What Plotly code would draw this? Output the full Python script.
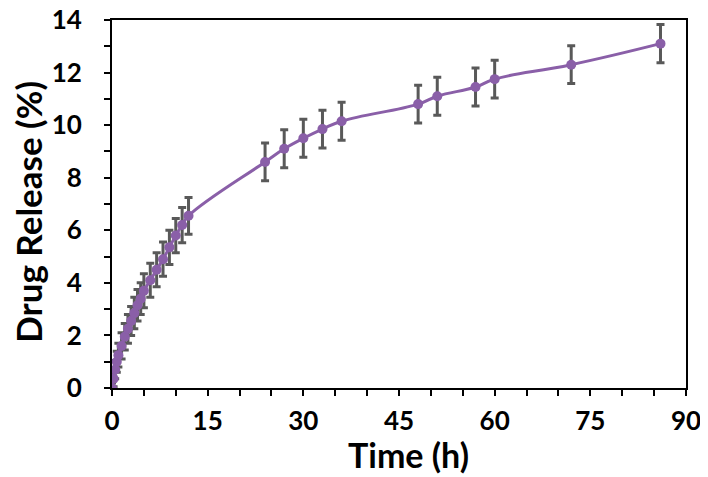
import plotly.graph_objects as go

# release data
time_h = [0, 0.25, 0.5, 0.75, 1, 1.5, 2, 2.5, 3, 3.5, 4, 4.5, 5, 6, 7, 8, 9, 10, 11, 12,
          24, 27, 30, 33, 36, 48, 51, 57, 60, 72, 86]
release = [0, 0.35, 0.7, 1.0, 1.25, 1.6, 1.95, 2.25, 2.55, 2.85, 3.15, 3.4, 3.7, 4.1, 4.5,
           4.9, 5.35, 5.8, 6.2, 6.55, 8.6, 9.1, 9.5, 9.85, 10.15, 10.8, 11.1, 11.45, 11.75,
           12.3, 13.1]
release_sd = [0.2, 0.3, 0.35, 0.4, 0.45, 0.5, 0.5, 0.55, 0.55, 0.6, 0.6, 0.6, 0.65, 0.65,
              0.65, 0.65, 0.65, 0.65, 0.67, 0.7, 0.72, 0.72, 0.72, 0.72, 0.72, 0.72, 0.72,
              0.72, 0.72, 0.72, 0.73]

purple = "#8A5FA8"
font_name = "Lato"

fig = go.Figure()
fig.add_trace(go.Scatter(
    x=time_h, y=release, mode="lines+markers",
    line=dict(color=purple, width=3, shape="spline", smoothing=1.3),
    marker=dict(color=purple, size=10),
    error_y=dict(type="data", array=release_sd, visible=True,
                 color="#595959", thickness=3, width=4),
    showlegend=False))

axis_style = dict(showline=True, linecolor="black", linewidth=2, mirror=True,
                  ticks="outside", ticklen=6, tickwidth=2, tickcolor="black",
                  showgrid=False, zeroline=False, automargin=False,
                  ticklabeloverflow="allow",
                  tickfont=dict(family=font_name, size=26, color="black", weight="bold"))

fig.update_xaxes(range=[0, 90], dtick=15, tick0=0,
                 minor=dict(dtick=5, ticks="outside", ticklen=6, tickwidth=2, tickcolor="black"),
                 ticklabelstandoff=3, **axis_style)
fig.update_yaxes(range=[0, 14], dtick=2, tick0=0,
                 minor=dict(dtick=1, ticks="outside", ticklen=6, tickwidth=2, tickcolor="black"),
                 ticklabelstandoff=17, **axis_style)

# axis titles placed as annotations so they sit where the reference has them
fig.add_annotation(text="<b>Time (h)</b>", xref="paper", yref="paper", x=0.517, y=-0.18,
                   xanchor="center", yanchor="middle", showarrow=False,
                   font=dict(family=font_name, size=34, color="black"))
fig.add_annotation(text="<b>Drug Release (%)</b>", xref="paper", yref="paper", x=-0.147, y=0.478,
                   xanchor="center", yanchor="middle", textangle=-90, showarrow=False,
                   font=dict(family=font_name, size=35, color="black"))

fig.update_layout(width=700, height=469, plot_bgcolor="white", paper_bgcolor="white",
                  margin=dict(l=104, r=22, t=12, b=89))

fig.write_html("out.html")
